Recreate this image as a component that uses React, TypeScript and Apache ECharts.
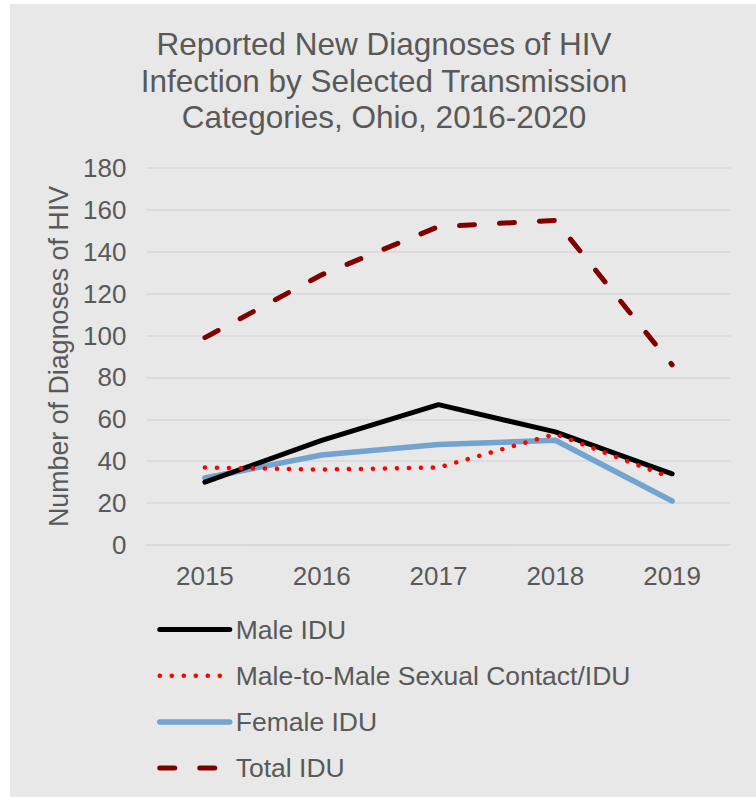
import React, { useEffect, useRef } from "react";
import * as echarts from "echarts";

const years = ["2015", "2016", "2017", "2018", "2019"];
const maleIDU = [30, 50, 67, 54, 34];
const msmIDU = [37, 36, 37, 53, 32];
const femaleIDU = [32, 43, 48, 50, 21];
const totalIDU = [99, 129, 152, 155, 86];

const titleText =
  "Reported New Diagnoses of HIV\nInfection by Selected Transmission\nCategories, Ohio, 2016-2020";
const yAxisName = "Number of Diagnoses of HIV";

const FONT = "'Liberation Sans', Arial, sans-serif";
const TXT = "#595959";

const styles = {
  male: { color: "#000000", width: 5, type: "solid" as any, cap: "round", join: "round" },
  msm: { color: "#ff0000", width: 4.5, type: [0.1, 11.9] as any, cap: "round", join: "round" },
  female: { color: "#72a4cf", width: 5.5, type: "solid" as any, cap: "round", join: "round" },
  total: { color: "#800000", width: 5, type: [15, 25] as any, cap: "round", join: "round" },
};

export default function App() {
  const ref = useRef<HTMLDivElement>(null);
  useEffect(() => {
    if (!ref.current) return;
    const chart = echarts.init(ref.current, undefined, { renderer: "svg" });
    const names = ["Male IDU", "Male-to-Male Sexual Contact/IDU", "Female IDU", "Total IDU"];
    const st = [styles.male, styles.msm, styles.female, styles.total];
    chart.setOption({
      animation: false,
      backgroundColor: "transparent",
      textStyle: { fontFamily: FONT },
      title: {
        text: titleText,
        left: 379,
        top: 21,
        textAlign: "center",
        textStyle: {
          fontFamily: FONT,
          fontSize: 31.5,
          fontWeight: "normal",
          color: TXT,
          lineHeight: 36.5,
        },
      },
      grid: { left: 146.5, right: 25.5, top: 168, bottom: 252, containLabel: false },
      legend: {
        orient: "vertical",
        left: 152,
        top: 611,
        itemWidth: 70,
        itemHeight: 26,
        itemGap: 19.2,
        itemStyle: { opacity: 0 },
        textStyle: { fontFamily: FONT, fontSize: 26.5, color: TXT, padding: [0, 0, 0, 1] },
        data: names.map((n, i) => ({ name: n, lineStyle: { ...st[i] }, itemStyle: { opacity: 0 } })),
      },
      xAxis: {
        type: "category",
        data: years,
        boundaryGap: true,
        axisLine: { show: true, lineStyle: { color: "#d9d9d9", width: 1.5 } },
        axisTick: { show: false },
        axisLabel: { fontFamily: FONT, fontSize: 26, color: TXT, margin: 18 },
      },
      yAxis: {
        type: "value",
        min: 0,
        max: 180,
        interval: 20,
        name: yAxisName,
        nameLocation: "middle",
        nameGap: 74,
        nameTextStyle: { fontFamily: FONT, fontSize: 26.8, color: TXT },
        axisLine: { show: false },
        axisTick: { show: false },
        axisLabel: { fontFamily: FONT, fontSize: 26, color: TXT, margin: 20 },
        splitLine: { lineStyle: { color: "#d9d9d9", width: 1.5 } },
      },
      series: [
        { name: names[0], type: "line", data: maleIDU, symbol: "none", color: st[0].color, lineStyle: st[0], z: 4 },
        { name: names[1], type: "line", data: msmIDU, symbol: "none", color: st[1].color, lineStyle: st[1], z: 5 },
        { name: names[2], type: "line", data: femaleIDU, symbol: "none", color: st[2].color, lineStyle: st[2], z: 3 },
        { name: names[3], type: "line", data: totalIDU, symbol: "none", color: st[3].color, lineStyle: st[3], z: 2 },
      ],
    });
    return () => chart.dispose();
  }, []);
  return (
    <div style={{ position: "absolute", left: 0, top: 0, width: 756, height: 797, background: "#ffffff" }}>
      <div style={{ position: "absolute", left: 10, top: 4, right: 0, bottom: 0, background: "#e8e8e8" }} />
      <div ref={ref} style={{ position: "absolute", left: 0, top: 0, width: 756, height: 797 }} />
    </div>
  );
}
